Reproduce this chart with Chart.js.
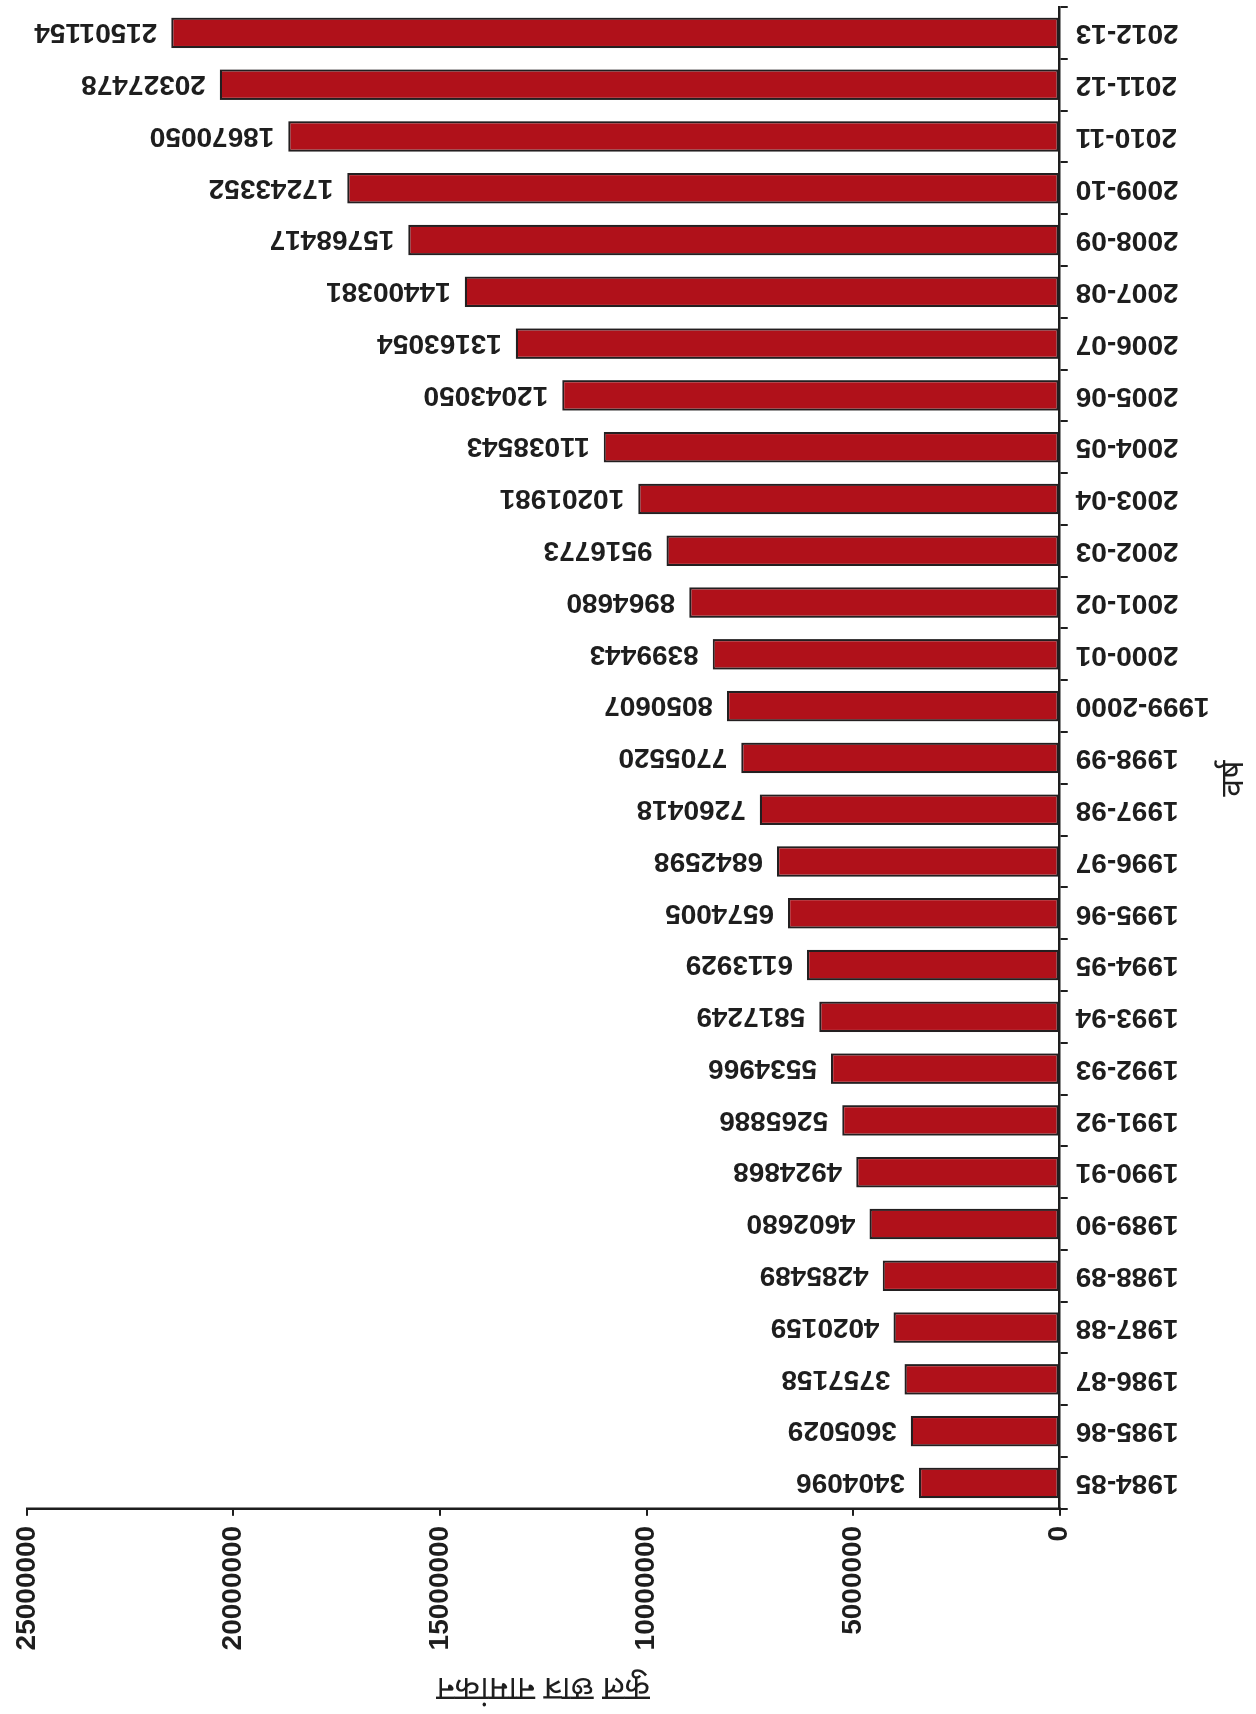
<!DOCTYPE html>
<html>
<head>
<meta charset="utf-8">
<script src="https://cdn.jsdelivr.net/npm/chart.js@4.4.1/dist/chart.umd.min.js"></script>
<style>
  html, body { margin: 0; padding: 0; background: #fff; overflow: hidden; }
  #page { position: relative; width: 1256px; height: 1714px; }
  /* the source figure is a column chart turned a quarter turn anticlockwise */
  #wrap {
    position: absolute; left: 0; top: 0;
    width: 1714px; height: 1256px;
    transform-origin: 0 0;
    transform: translate(0, 1714px) rotate(-90deg);
  }
</style>
</head>
<body>
<div id="page">
  <div id="wrap"><canvas id="chart" width="1714" height="1256"></canvas></div>
</div>
<script>
const years = ['1984-85', '1985-86', '1986-87', '1987-88', '1988-89', '1989-90', '1990-91',
    '1991-92', '1992-93', '1993-94', '1994-95', '1995-96', '1996-97', '1997-98', '1998-99',
    '1999-2000', '2000-01', '2001-02', '2002-03', '2003-04', '2004-05', '2005-06', '2006-07',
    '2007-08', '2008-09', '2009-10', '2010-11', '2011-12', '2012-13'];
const enrolment = [3404096, 3605029, 3757158, 4020159, 4285489, 4602680, 4924868,
    5265886, 5534966, 5817249, 6113929, 6574005, 6842598, 7260418, 7705520,
    8050607, 8399443, 8964680, 9516773, 10201981, 11038543, 12043050, 13163054,
    14400381, 15768417, 17243352, 18670050, 20327478, 21501154];
const valueTicks = [0, 5000000, 10000000, 15000000, 20000000, 25000000];
const xTitle = 'वर्ष';
const yTitle = 'कुल छात्र नामांकन';

const numFont = { family: "'Liberation Sans', Arial, sans-serif", size: 28, weight: 'bold' };
const hindiFamily = "'Noto Sans Devanagari', 'Lohit Devanagari', 'Noto Sans', sans-serif";
const ink = '#1e1e1e';

// value labels above each column, turned like the category labels
const barLabels = {
    id: 'barLabels',
    afterDatasetsDraw(chart) {
        const ctx = chart.ctx;
        const meta = chart.getDatasetMeta(0);
        ctx.save();
        ctx.font = `bold ${numFont.size}px ${numFont.family}`;
        ctx.fillStyle = ink;
        ctx.textAlign = 'left';
        ctx.textBaseline = 'middle';
        meta.data.forEach((bar, i) => {
            ctx.save();
            ctx.translate(bar.x, bar.y - 14);
            ctx.rotate(-Math.PI / 2);
            ctx.fillText(String(enrolment[i]), 0, 1);
            ctx.restore();
        });
        ctx.restore();
    }
};

new Chart(document.getElementById('chart'), {
    type: 'bar',
    data: {
        labels: years,
        datasets: [{
            data: enrolment,
            backgroundColor: '#b0111a',
            borderColor: '#231f20',
            borderWidth: 2.2,
            borderSkipped: false,
            categoryPercentage: 1,
            barPercentage: 0.59
        }]
    },
    options: {
        responsive: false,
        animation: false,
        layout: { padding: { top: 12, right: 7, left: 10, bottom: 0 } },
        plugins: { legend: { display: false }, tooltip: { enabled: false } },
        scales: {
            x: {
                // let the axis run close to the edge like the source
                afterFit: s => { s.paddingRight = 0; },
                grid: { display: true, drawOnChartArea: false, drawTicks: true, tickLength: 8, color: ink, lineWidth: 2 },
                border: { display: true, color: ink, width: 2.5 },
                ticks: { color: ink, font: numFont, minRotation: 90, maxRotation: 90, padding: 8, autoSkip: false },
                // trailing spaces nudge the title a little left of centre, as in the source
                title: { display: true, text: xTitle + '\u00a0'.repeat(5), color: ink, font: { family: hindiFamily, size: 32 }, padding: { top: 0, bottom: 0 } }
            },
            y: {
                min: 0,
                max: 25000000,
                afterBuildTicks: axis => { axis.ticks = valueTicks.map(v => ({ value: v })); },
                grid: { display: true, drawOnChartArea: false, drawTicks: true, tickLength: 7, color: ink, lineWidth: 2 },
                border: { display: true, color: ink, width: 2.5 },
                ticks: { color: ink, font: numFont, padding: 10, callback: v => String(v) },
                title: { display: true, text: yTitle, color: ink, font: { family: hindiFamily, size: 33 }, padding: { top: 0, bottom: 4 } }
            }
        }
    },
    plugins: [barLabels]
});
</script>
</body>
</html>
